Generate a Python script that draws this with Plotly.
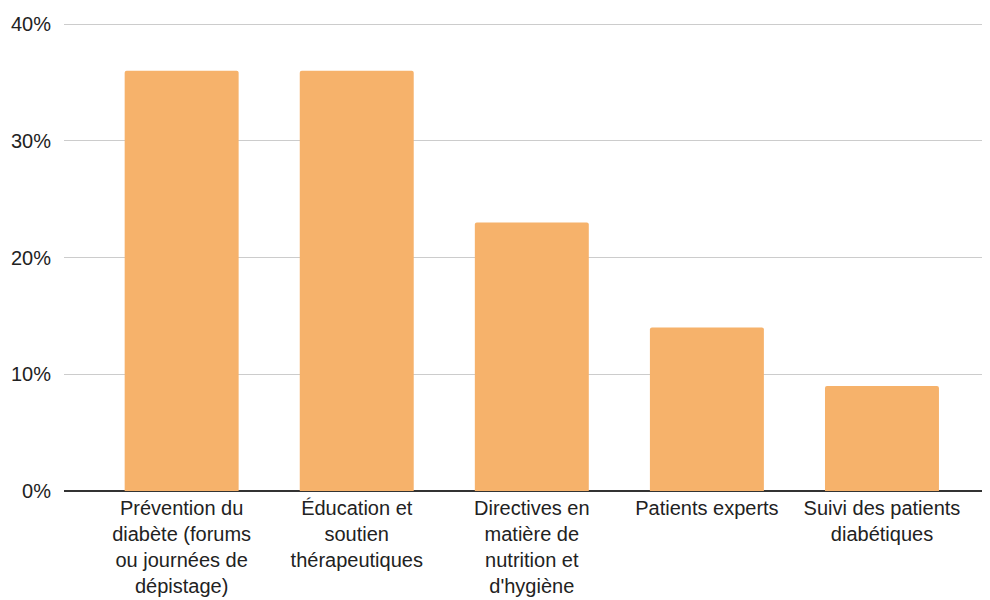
import plotly.graph_objects as go

categories = [
    "Prévention du<br>diabète (forums<br>ou journées de<br>dépistage)",
    "Éducation et<br>soutien<br>thérapeutiques",
    "Directives en<br>matière de<br>nutrition et<br>d'hygiène",
    "Patients experts",
    "Suivi des patients<br>diabétiques",
]
values = [36, 36, 23, 14, 9]
y_ticks = [0, 10, 20, 30, 40]
y_tick_labels = ["0%", "10%", "20%", "30%", "40%"]

fig = go.Figure(
    go.Bar(
        x=list(range(len(categories))),
        y=values,
        width=0.651,
        marker=dict(color="#f6b26b", line=dict(width=0), cornerradius=2),
        hoverinfo="skip",
    )
)

# page body has an 8px margin, so the figure is sized/offset to compensate
fig.update_layout(
    width=982,
    height=592,
    margin=dict(l=56, r=0, t=13, b=109),
    plot_bgcolor="white",
    paper_bgcolor="white",
    font=dict(family="Liberation Sans, Arial, sans-serif", size=20, color="#222222"),
    showlegend=False,
)
fig.update_xaxes(
    tickmode="array",
    tickvals=list(range(len(categories))),
    ticktext=categories,
    range=[-0.672, 4.617],
    showgrid=False,
    zeroline=False,
    showline=False,
    ticks="",
    automargin=False,
    ticklabelstandoff=3,
    tickfont=dict(size=20, color="#222222"),
)
fig.update_yaxes(
    range=[0, 40.257],
    tickmode="array",
    tickvals=y_ticks,
    ticktext=y_tick_labels,
    showgrid=True,
    gridcolor="#cccccc",
    gridwidth=1,
    zeroline=True,
    zerolinecolor="#333333",
    zerolinewidth=2,
    ticks="",
    automargin=False,
    ticklabelstandoff=12,
    tickfont=dict(size=20, color="#222222"),
)

fig.write_html("out.html")
